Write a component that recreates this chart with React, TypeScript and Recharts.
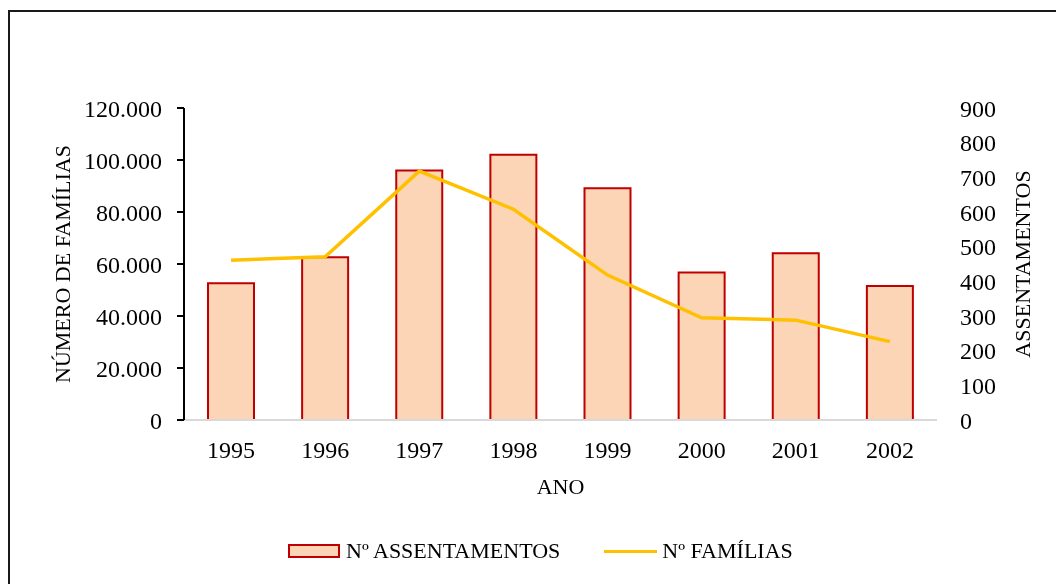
import React from 'react';
import { ComposedChart, Bar, Line, XAxis, YAxis, Legend } from 'recharts';

const anos = ['1995', '1996', '1997', '1998', '1999', '2000', '2001', '2002'];
const familias = [52600, 62600, 96000, 102000, 89100, 56700, 64100, 51500];
const assentamentos = [461, 471, 718, 608, 418, 295, 288, 226];
const ticksEsq = [0, 20000, 40000, 60000, 80000, 100000, 120000];
const ticksDir = [0, 100, 200, 300, 400, 500, 600, 700, 800, 900];

const data = anos.map((ano, i) => ({ ano, familias: familias[i], assentamentos: assentamentos[i] }));

const FONT = '"Liberation Serif", "Times New Roman", serif';
const pontos = (v: number) => String(v).replace(/\B(?=(\d{3})+(?!\d))/g, '.');

const Legenda = () => (
  <div style={{ display: 'flex', alignItems: 'center', paddingLeft: 280, fontFamily: FONT, fontSize: 22, color: '#000' }}>
    <span style={{ width: 48, height: 10, border: '2px solid #C00000', background: '#FBD5B5', display: 'inline-block' }} />
    <span style={{ marginLeft: 6 }}>Nº ASSENTAMENTOS</span>
    <span style={{ marginLeft: 44, width: 53, height: 3, background: '#FFC000', display: 'inline-block' }} />
    <span style={{ marginLeft: 5 }}>Nº FAMÍLIAS</span>
  </div>
);

const App = () => {
  return (
    <div style={{ position: 'relative', width: 1040, height: 568 }}>
      {/* moldura: só aparecem as bordas de cima e da esquerda */}
      <div style={{ position: 'fixed', left: 8, top: 10, width: 1200, height: 800, border: '2px solid #1a1a1a' }} />
      <ComposedChart
        width={1040}
        height={568}
        data={data}
        margin={{ top: 100, right: 0, left: 0, bottom: 66 }}
        style={{ fontFamily: FONT }}
      >
        <XAxis
          dataKey="ano"
          height={90}
          axisLine={{ stroke: '#d9d9d9', strokeWidth: 2 }}
          tickLine={false}
          tickSize={0}
          tickMargin={21}
          tick={{ fill: '#000', fontSize: 24 }}
          label={({ viewBox }: any) => (
            <text x={viewBox.x + viewBox.width / 2} y={viewBox.y + 74} textAnchor="middle" fontSize={22} fill="#000">
              ANO
            </text>
          )}
        />
        <YAxis
          yAxisId="fam"
          width={176}
          domain={[0, 120000]}
          ticks={ticksEsq}
          tickFormatter={pontos}
          axisLine={{ stroke: '#000', strokeWidth: 2 }}
          tickLine={{ stroke: '#000', strokeWidth: 2 }}
          tickSize={7}
          tickMargin={15}
          tick={{ fill: '#000', fontSize: 24 }}
          label={({ viewBox }: any) => (
            <text
              x={54}
              y={viewBox.y + viewBox.height / 2}
              transform={`rotate(-90, 54, ${viewBox.y + viewBox.height / 2})`}
              textAnchor="middle"
              dominantBaseline="central"
              fontSize={22}
              fill="#000"
            >
              NÚMERO DE FAMÍLIAS
            </text>
          )}
        />
        <YAxis
          yAxisId="ass"
          orientation="right"
          width={111}
          domain={[0, 900]}
          ticks={ticksDir}
          axisLine={false}
          tickLine={false}
          tickSize={0}
          tickMargin={23}
          tick={{ fill: '#000', fontSize: 24 }}
          label={({ viewBox }: any) => (
            <text
              x={viewBox.x + 85}
              y={viewBox.y + viewBox.height / 2}
              transform={`rotate(-90, ${viewBox.x + 85}, ${viewBox.y + viewBox.height / 2})`}
              textAnchor="middle"
              dominantBaseline="central"
              fontSize={22}
              fill="#000"
            >
              ASSENTAMENTOS
            </text>
          )}
        />
        <Legend
          layout="horizontal"
          verticalAlign="middle"
          align="center"
          wrapperStyle={{ top: 530, left: 0, width: 1040 }}
          content={() => <Legenda />}
        />
        <Bar
          yAxisId="fam"
          dataKey="familias"
          name="Nº ASSENTAMENTOS"
          barSize={46}
          fill="#FBD5B5"
          stroke="#C00000"
          strokeWidth={2}
          isAnimationActive={false}
        />
        <Line
          yAxisId="ass"
          dataKey="assentamentos"
          name="Nº FAMÍLIAS"
          type="linear"
          stroke="#FFC000"
          strokeWidth={3.5}
          dot={false}
          activeDot={false}
          isAnimationActive={false}
        />
      </ComposedChart>
    </div>
  );
};

export default App;
